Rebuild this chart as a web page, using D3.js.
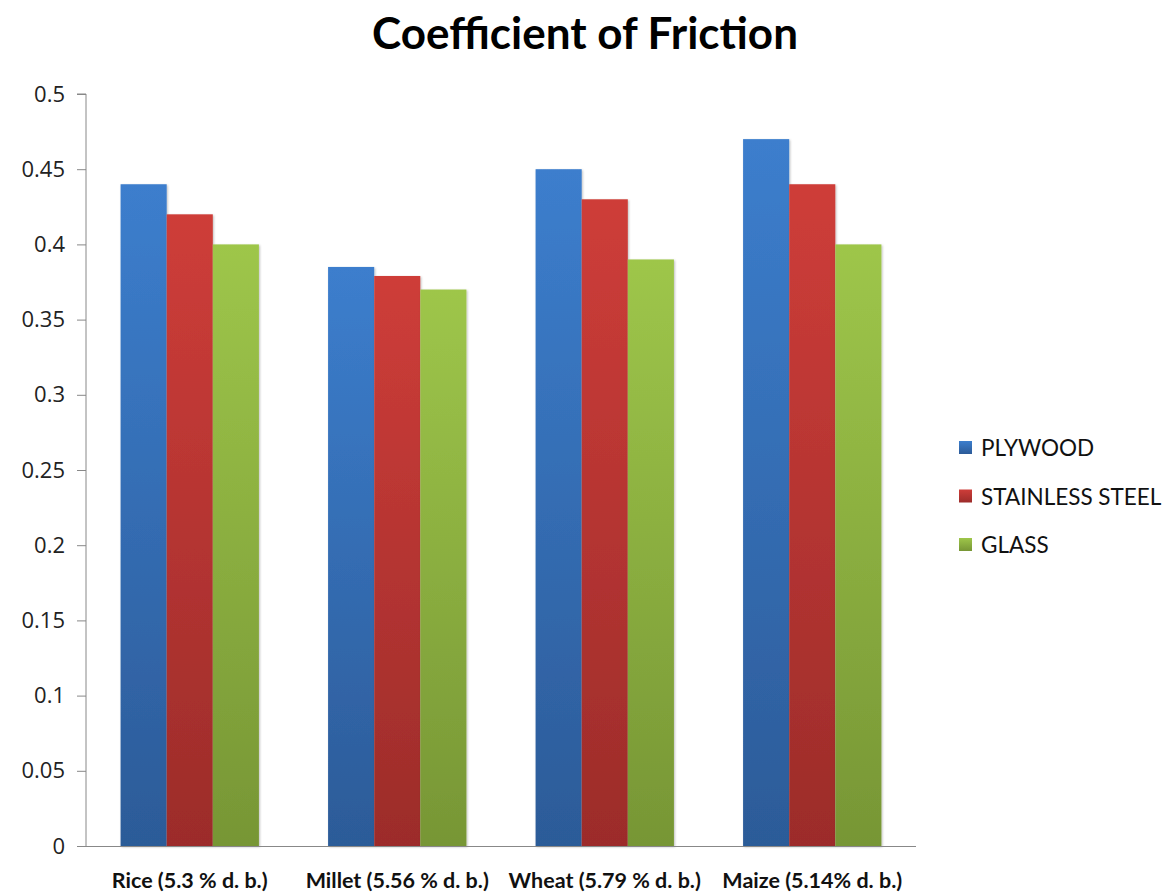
<!DOCTYPE html>
<html>
<head>
<meta charset="utf-8">
<script src="https://cdn.jsdelivr.net/npm/d3@7"></script>
<style>
  body { margin: 0; background: #fff; }
  text { font-family: Lato, "Open Sans", sans-serif; }
</style>
</head>
<body>
<svg id="chart" width="1163" height="895"></svg>
<script>
// Chart data
const categories = ['Rice (5.3 % d. b.)', 'Millet (5.56 % d. b.)', 'Wheat (5.79 % d. b.)', 'Maize (5.14% d. b.)'];
const seriesNames = ['PLYWOOD', 'STAINLESS STEEL', 'GLASS'];
const plywood = [0.44, 0.385, 0.45, 0.47];
const stainlessSteel = [0.42, 0.379, 0.43, 0.44];
const glass = [0.40, 0.37, 0.39, 0.40];
const yTicks = [0, 0.05, 0.1, 0.15, 0.2, 0.25, 0.3, 0.35, 0.4, 0.45, 0.5];

const seriesValues = [plywood, stainlessSteel, glass];
const colors = [
    { top: '#3c7ecd', bottom: '#2c5b98' },
    { top: '#ce3d39', bottom: '#9c2c2a' },
    { top: '#9ec64a', bottom: '#779635' }
];

const svg = d3.select('#chart');
const margin = { top: 94, right: 247, bottom: 49, left: 86 };
const width = 1163 - margin.left - margin.right;
const height = 895 - margin.top - margin.bottom;

// gradients for the bars
const defs = svg.append('defs');
colors.forEach((c, i) => {
    const grad = defs.append('linearGradient')
        .attr('id', 'grad' + i)
        .attr('x1', 0).attr('y1', 0).attr('x2', 0).attr('y2', 1);
    grad.append('stop').attr('offset', '0%').attr('stop-color', c.top);
    grad.append('stop').attr('offset', '100%').attr('stop-color', c.bottom);
});
const shadow = defs.append('filter').attr('id', 'shadow')
    .attr('x', '-10%').attr('y', '-5%').attr('width', '130%').attr('height', '110%');
shadow.append('feDropShadow').attr('dx', 1).attr('dy', 1).attr('stdDeviation', 1.2)
    .attr('flood-color', '#000').attr('flood-opacity', 0.25);

const g = svg.append('g').attr('transform', `translate(${margin.left},${margin.top})`);

// scales
const x = d3.scaleBand().domain(categories).range([0, width]).paddingInner(1 / 3).paddingOuter(1 / 6);
const xSub = d3.scaleBand().domain(seriesNames).range([0, x.bandwidth()]);
const y = d3.scaleLinear().domain([0, 0.5]).range([height, 0]);

// bars
const rows = categories.map((cat, i) => ({ cat, values: seriesValues.map((s, j) => ({ name: seriesNames[j], idx: j, value: s[i] })) }));
const groups = g.selectAll('.group').data(rows).join('g')
    .attr('class', 'group')
    .attr('transform', d => `translate(${x(d.cat)},0)`);
groups.selectAll('rect').data(d => d.values).join('rect')
    .attr('x', d => xSub(d.name))
    .attr('width', xSub.bandwidth())
    .attr('y', d => y(d.value))
    .attr('height', d => height - y(d.value))
    .attr('fill', d => `url(#grad${d.idx})`)
    .attr('filter', 'url(#shadow)');

// y axis
const yAxis = g.append('g')
    .call(d3.axisLeft(y).tickValues(yTicks).tickFormat(d => d3.format('')(+d.toFixed(2))).tickSize(9).tickPadding(12));
yAxis.select('.domain').attr('stroke', '#888').attr('d', `M-9,0H0V${height}`);
yAxis.selectAll('.tick line').attr('stroke', '#888');
yAxis.selectAll('.tick text').attr('font-size', 22).attr('fill', '#222')
    .style('font-family', '"Open Sans", sans-serif');

// x axis line
g.append('line')
    .attr('x1', -9).attr('x2', width)
    .attr('y1', height + 0.5).attr('y2', height + 0.5)
    .attr('stroke', '#888');

// x labels
g.selectAll('.xlabel').data(categories).join('text')
    .attr('class', 'xlabel')
    .attr('x', d => x(d) + x.bandwidth() / 2)
    .attr('y', height + 42)
    .attr('text-anchor', 'middle')
    .attr('font-size', 21.5)
    .attr('font-weight', 'bold')
    .attr('fill', '#111')
    .text(d => d);

// title
svg.append('text')
    .attr('x', 585).attr('y', 49)
    .attr('text-anchor', 'middle')
    .attr('font-size', 44)
    .attr('font-weight', 'bold')
    .attr('fill', '#000')
    .text('Coefficient of Friction');

// legend
const legend = svg.append('g').attr('transform', 'translate(959,448)');
seriesNames.forEach((name, i) => {
    const row = legend.append('g').attr('transform', `translate(0,${i * 48.5})`);
    row.append('rect').attr('x', 0).attr('y', -7).attr('width', 13).attr('height', 13)
        .attr('fill', `url(#grad${i})`);
    row.append('text').attr('x', 22).attr('y', 0).attr('dy', '0.36em')
        .attr('font-size', 22.5).attr('fill', '#111')
        .text(name);
});
</script>
</body>
</html>
